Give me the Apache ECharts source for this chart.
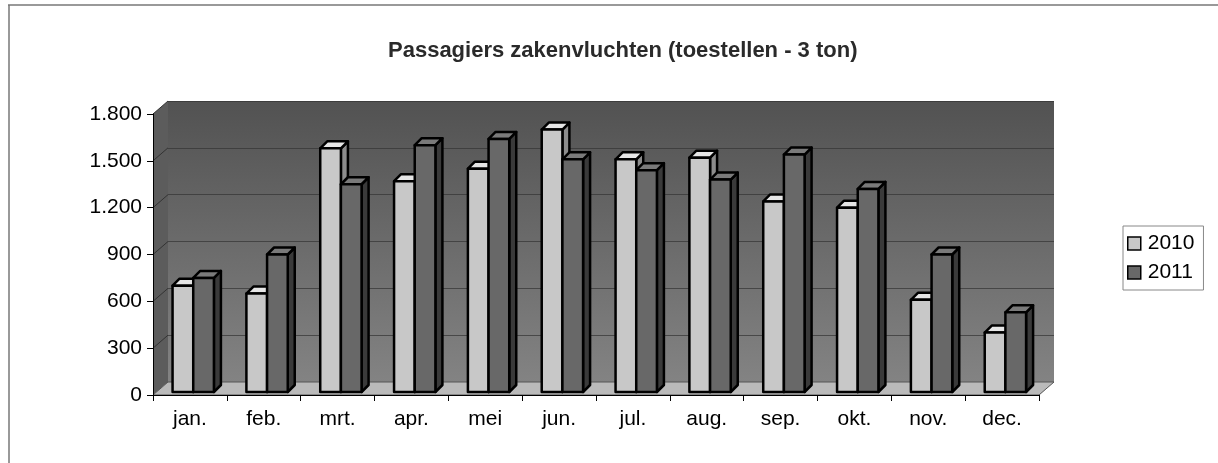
<!DOCTYPE html>
<html>
<head>
<meta charset="utf-8">
<style>
  html, body { margin: 0; padding: 0; background: #fff; }
  #chart { width: 1218px; height: 463px; }
</style>
<script src="https://cdn.jsdelivr.net/npm/echarts@6/dist/echarts.min.js"></script>
</head>
<body>
<div id="chart"></div>
<script>
var months = ['jan.', 'feb.', 'mrt.', 'apr.', 'mei', 'jun.', 'jul.', 'aug.', 'sep.', 'okt.', 'nov.', 'dec.']
var values2010 = [700, 650, 1580, 1370, 1450, 1700, 1510, 1520, 1240, 1200, 610, 400]
var values2011 = [750, 900, 1350, 1600, 1640, 1510, 1440, 1380, 1540, 1320, 900, 530]
var yTicks = [0, 300, 600, 900, 1200, 1500, 1800]

// plot box (front plane) and depth of the 3d wall
var GL = 153, GT = 114, GW = 886, GH = 281
var DX = 15, DY = -13
var FONT = '"Liberation Sans", Arial, sans-serif'

var chart = echarts.init(document.getElementById('chart'))

var fmt = function (v) {
    return String(v).replace(/\B(?=(\d{3})+(?!\d))/g, '.')
}

// 3d column: side face, top face, front face
var makeBar = function (offset, colors) {
    return function (params, api) {
        var i = api.value(0)
        var top = api.coord([i, api.value(1)])
        var base = api.coord([i, 0])
        var bw = api.size([1, 0])[0]
        var w = bw * 0.28
        var d = 7
        var x0 = top[0] + bw * offset
        var x1 = x0 + w
        var y0 = top[1]
        var y1 = base[1] - 3
        var line = { stroke: '#000', lineWidth: 2.5, lineJoin: 'round' }
        return {
            type: 'group',
            children: [
                {
                    type: 'polygon',
                    shape: { points: [[x1, y0], [x1 + d, y0 - d], [x1 + d, y1 - d], [x1, y1]] },
                    style: Object.assign({ fill: colors[2] }, line)
                },
                {
                    type: 'polygon',
                    shape: { points: [[x0, y0], [x0 + d, y0 - d], [x1 + d, y0 - d], [x1, y0]] },
                    style: Object.assign({ fill: colors[1] }, line)
                },
                {
                    type: 'rect',
                    shape: { x: x0, y: y0, width: w, height: y1 - y0 },
                    style: Object.assign({ fill: colors[0] }, line)
                }
            ]
        }
    }
}

var light = ['#c8c8c8', '#e6e6e6', '#8c8c8c']
var dark = ['#686868', '#7a7a7a', '#3a3a3a']

var yPix = function (v) { return GT + GH * (1 - v / 1800) }

var graphics = [
    // page frame (top and left only)
    { type: 'line', shape: { x1: 8, y1: 5, x2: 1218, y2: 5 }, style: { stroke: '#777', lineWidth: 1.5 }, z: 0 },
    { type: 'line', shape: { x1: 9, y1: 5, x2: 9, y2: 463 }, style: { stroke: '#777', lineWidth: 1.5 }, z: 0 },
    // left wall
    {
        type: 'polygon', z: 1,
        shape: { points: [[GL, GT], [GL + DX, GT + DY], [GL + DX, GT + GH + DY], [GL, GT + GH]] },
        style: { fill: '#5c5c5c' }
    },
    // floor
    {
        type: 'polygon', z: 1,
        shape: { points: [[GL, GT + GH], [GL + GW, GT + GH], [GL + GW + DX, GT + GH + DY], [GL + DX, GT + GH + DY]] },
        style: { fill: '#bababa', stroke: '#555', lineWidth: 1 }
    }
]
yTicks.forEach(function (t) {
    if (t === 0) return
    graphics.push({
        type: 'line', z: 1,
        shape: { x1: GL, y1: yPix(t), x2: GL + DX, y2: yPix(t) + DY },
        style: { stroke: '#333', lineWidth: 1 }
    })
})

var option = {
    animation: false,
    backgroundColor: '#fff',
    textStyle: { fontFamily: FONT },
    title: {
        text: 'Passagiers zakenvluchten (toestellen - 3 ton)',
        left: 383,
        top: 35,
        textStyle: { fontSize: 22, fontWeight: 'bold', color: '#2a2a2a', fontFamily: FONT }
    },
    legend: {
        orient: 'vertical',
        left: 1123,
        top: 226,
        padding: [7, 9, 7, 4],
        itemGap: 8,
        itemWidth: 13,
        itemHeight: 13,
        borderColor: '#888',
        borderWidth: 1,
        textStyle: { fontSize: 21, color: '#000', fontFamily: FONT, padding: [0, 0, 0, 2] },
        data: [
            { name: '2010', icon: 'rect', itemStyle: { color: '#c8c8c8', borderColor: '#000', borderWidth: 1.5 } },
            { name: '2011', icon: 'rect', itemStyle: { color: '#686868', borderColor: '#000', borderWidth: 1.5 } }
        ]
    },
    grid: [
        { left: GL, top: GT, width: GW, height: GH, z: 2 },
        {
            left: GL + DX, top: GT + DY, width: GW, height: GH, show: true, borderWidth: 0,
            backgroundColor: {
                type: 'linear', x: 0, y: 0, x2: 0, y2: 1,
                colorStops: [{ offset: 0, color: '#525252' }, { offset: 1, color: '#838383' }]
            }
        }
    ],
    xAxis: [
        {
            type: 'category', gridIndex: 0, data: months, z: 5,
            axisLine: { lineStyle: { color: '#000', width: 1 } },
            axisTick: { show: true, length: 6, lineStyle: { color: '#000' } },
            axisLabel: { fontSize: 21, color: '#000', margin: 14, fontFamily: FONT }
        },
        { type: 'category', gridIndex: 1, data: months, show: false }
    ],
    yAxis: [
        {
            type: 'value', gridIndex: 0, min: 0, max: 1800, interval: 300, z: 5,
            axisLine: { show: true, lineStyle: { color: '#000', width: 1 } },
            axisTick: { show: true, length: 6, lineStyle: { color: '#000' } },
            splitLine: { show: false },
            axisLabel: { fontSize: 21, color: '#000', margin: 11, formatter: fmt, fontFamily: FONT }
        },
        {
            type: 'value', gridIndex: 1, min: 0, max: 1800, interval: 300,
            axisLine: { show: false }, axisTick: { show: false }, axisLabel: { show: false },
            splitLine: { show: true, lineStyle: { color: '#333', width: 1, opacity: 0.7 } }
        }
    ],
    series: [
        {
            name: '2010', type: 'custom', xAxisIndex: 0, yAxisIndex: 0, z: 3,
            itemStyle: { color: '#c8c8c8' },
            encode: { x: 0, y: 1 },
            data: values2010.map(function (v, i) { return [i, v] }),
            renderItem: makeBar(-0.235, light)
        },
        {
            name: '2011', type: 'custom', xAxisIndex: 0, yAxisIndex: 0, z: 4,
            itemStyle: { color: '#686868' },
            encode: { x: 0, y: 1 },
            data: values2011.map(function (v, i) { return [i, v] }),
            renderItem: makeBar(0.045, dark)
        }
    ],
    graphic: graphics
}

chart.setOption(option)
</script>
</body>
</html>
